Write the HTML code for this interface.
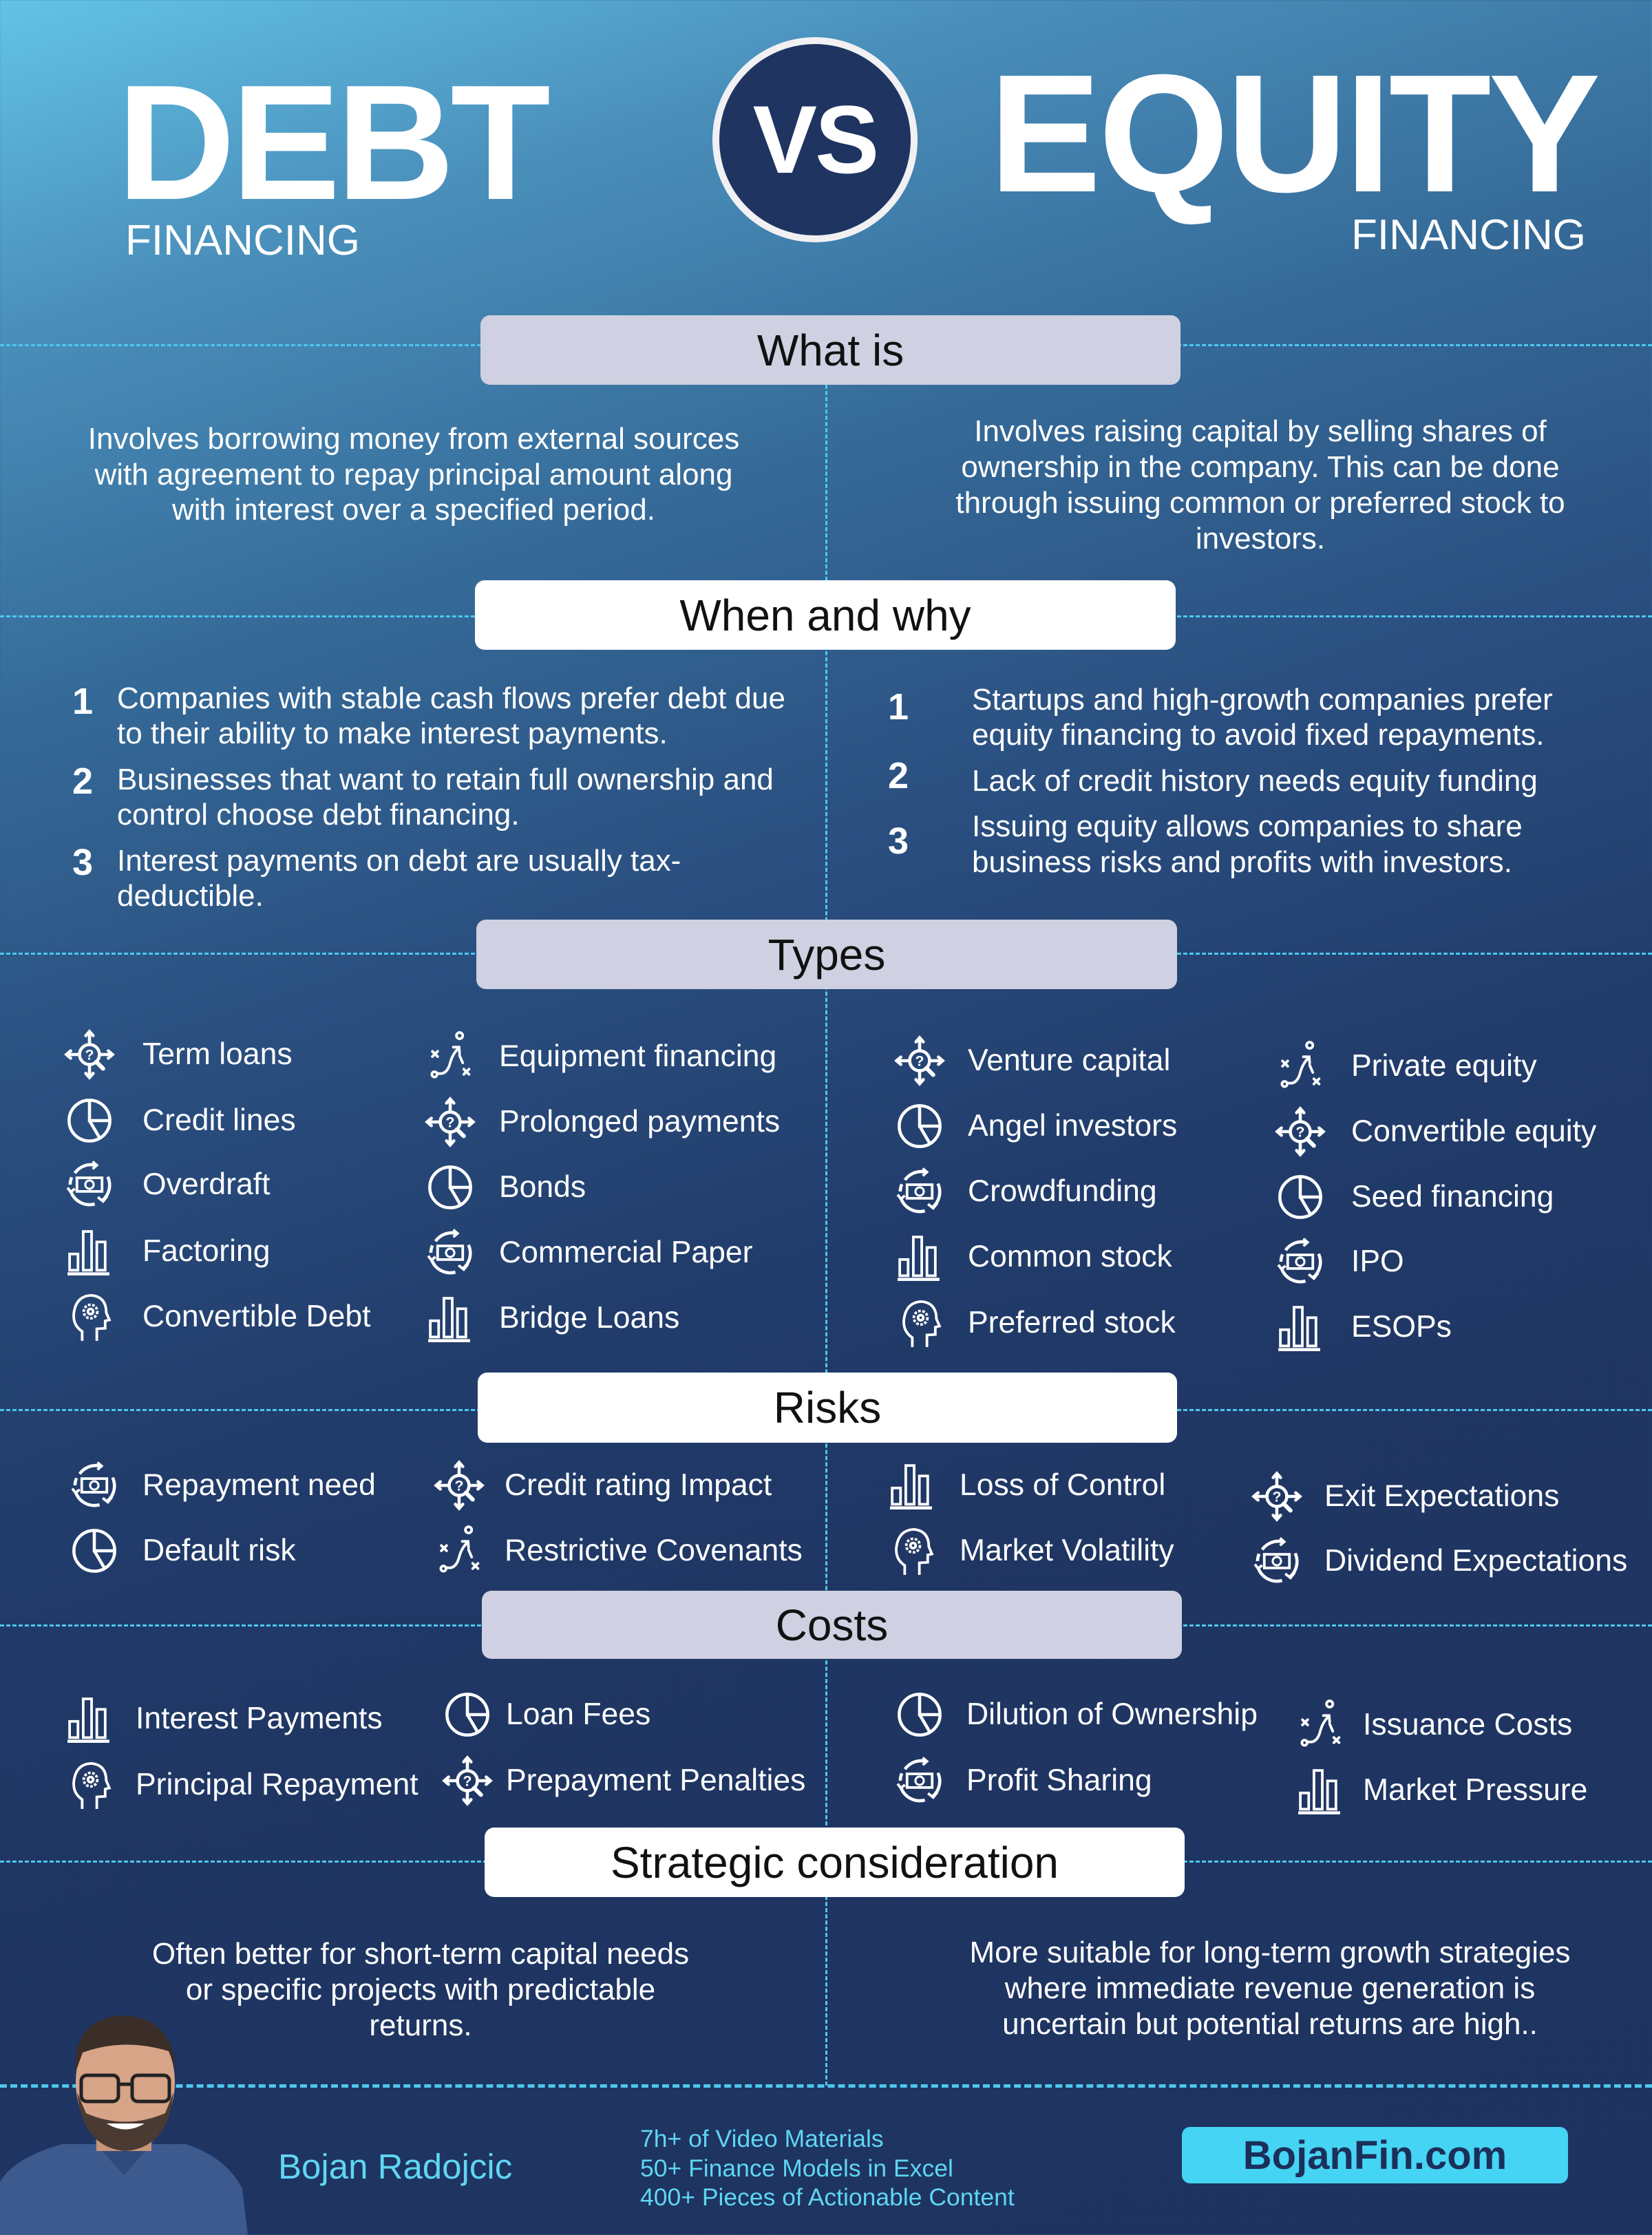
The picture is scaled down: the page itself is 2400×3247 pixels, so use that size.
<!DOCTYPE html>
<html><head><meta charset="utf-8">
<style>
*{margin:0;padding:0;box-sizing:border-box}
body{width:2400px;height:3247px;position:relative;overflow:hidden;font-family:"Liberation Sans",sans-serif;color:#fff;
background:linear-gradient(162deg,#62c3e6 0%,#4a8fbb 12%,#356a98 26%,#2a4f80 40%,#213c6b 55%,#1f3562 70%,#1e3360 100%);}
.a{position:absolute}
.c{position:absolute;width:1400px;text-align:center;line-height:52px;height:52px;font-size:44px;white-space:nowrap}
.l{position:absolute;line-height:52px;height:52px;font-size:44px;white-space:nowrap}
.t{font-size:44.5px}
.n{position:absolute;font-weight:bold;font-size:54px;line-height:60px;width:60px;text-align:center}
.hl{position:absolute;left:0;width:2400px;height:0;border-top:3px dashed #4cc8ee}
.hb{position:absolute;border-radius:14px;color:#111;font-size:64px;text-align:center;display:flex;align-items:center;justify-content:center}
.lav{background:#cfd0e1}.wh{background:#fff}
svg.i{position:absolute;width:76px;height:76px}
</style></head><body>
<svg width="0" height="0" style="position:absolute">
<defs>
<symbol id="q" viewBox="0 0 100 100"><g fill="none" stroke="#fff" stroke-width="6" stroke-linecap="round">
<circle cx="50" cy="50" r="19"/><line x1="63" y1="64" x2="76" y2="77" stroke-width="8"/>
<line x1="50" y1="30" x2="50" y2="8"/><line x1="50" y1="70" x2="50" y2="93"/><line x1="30" y1="50" x2="8" y2="50"/><line x1="70" y1="50" x2="93" y2="50"/>
<polyline points="43,14 50,6 57,14"/><polyline points="43,86 50,94 57,86"/><polyline points="14,43 6,50 14,57"/><polyline points="86,43 94,50 86,57"/></g>
<text x="50" y="60" font-size="28" font-weight="bold" text-anchor="middle" fill="#fff" font-family="Liberation Sans">?</text></symbol>
<symbol id="pie" viewBox="0 0 100 100"><g fill="none" stroke="#fff" stroke-width="6"><circle cx="50" cy="50" r="39"/><polyline points="50,11 50,50 89,50"/><line x1="50" y1="50" x2="70" y2="84"/></g></symbol>
<symbol id="mon" viewBox="0 0 100 100"><g fill="none" stroke="#fff" stroke-width="6"><path d="M22,28 A38,38 0 0 1 62,13"/><path d="M85,35 A38,38 0 0 1 75,80"/><path d="M60,87 A38,38 0 0 1 14,62"/><path d="M13,50 A38,38 0 0 1 16,36"/>
<polyline points="56,6 64,13 56,20" stroke-width="5"/><polyline points="66,74 76,82 84,72" stroke-width="5"/><polyline points="8,56 14,64 22,58" stroke-width="5"/>
<rect x="26" y="37" width="48" height="26" stroke-width="5"/><circle cx="50" cy="50" r="8" stroke-width="4"/></g></symbol>
<symbol id="bar" viewBox="0 0 100 100"><g fill="none" stroke="#fff" stroke-width="5"><rect x="12" y="55" width="16" height="31"/><rect x="38" y="12" width="16" height="74"/><rect x="64" y="32" width="16" height="54"/></g><rect x="8" y="90" width="80" height="6" fill="#fff"/></symbol>
<symbol id="head" viewBox="0 0 100 100"><g fill="none" stroke="#fff" stroke-width="5"><path d="M36,96 L36,78 Q18,66 20,44 Q24,10 54,9 Q82,12 82,42 L88,56 L80,58 L80,72 L64,73 L64,96"/><circle cx="52" cy="40" r="13" stroke-dasharray="5 3"/><circle cx="52" cy="40" r="5"/></g></symbol>
<symbol id="rt" viewBox="0 0 100 100"><g fill="none" stroke="#fff" stroke-width="5" stroke-linecap="round"><circle cx="68" cy="10" r="6"/><path d="M26,82 Q44,86 50,62 Q55,44 66,34"/><polyline points="56,32 67,32 68,44"/><circle cx="20" cy="84" r="5"/>
<path d="M16,40 L26,50 M26,40 L16,50"/><path d="M76,74 L86,84 M86,74 L76,84"/><path d="M68,48 L74,62"/></g></symbol>
</defs></svg>

<!-- title -->
<div class="a" style="left:170px;top:78px;font-size:238px;font-weight:bold;line-height:260px;letter-spacing:-6px">DEBT</div>
<div class="a" style="left:182px;top:318px;font-size:62px;line-height:64px">FINANCING</div>
<div class="a" style="left:1035px;top:54px;width:298px;height:298px;border-radius:50%;background:#1f3461;border:10px solid #f1f1f3;display:flex;align-items:center;justify-content:center;font-size:140px;font-weight:bold;letter-spacing:-3px">VS</div>
<div class="a" style="left:1437px;top:64px;font-size:244px;font-weight:bold;line-height:260px;letter-spacing:-4px">EQUITY</div>
<div class="a" style="left:1963px;top:310px;font-size:62px;line-height:64px">FINANCING</div>

<!-- dashed lines -->
<div class="a" style="left:1199px;top:559px;height:2471px;border-left:3px dashed #4cc8ee"></div>
<div class="hl" style="top:500px"></div>
<div class="hl" style="top:894px"></div>
<div class="hl" style="top:1384px"></div>
<div class="hl" style="top:2047px"></div>
<div class="hl" style="top:2360px"></div>
<div class="hl" style="top:2703px"></div>
<div class="hl" style="top:3028px;border-top-width:5px"></div>

<!-- headers -->
<div class="hb lav" style="left:698px;top:458px;width:1017px;height:101px">What is</div>
<div class="hb wh" style="left:690px;top:843px;width:1018px;height:101px">When and why</div>
<div class="hb lav" style="left:692px;top:1336px;width:1018px;height:101px">Types</div>
<div class="hb wh" style="left:694px;top:1994px;width:1016px;height:102px">Risks</div>
<div class="hb lav" style="left:700px;top:2311px;width:1017px;height:99px">Costs</div>
<div class="hb wh" style="left:704px;top:2655px;width:1017px;height:101px">Strategic consideration</div>

<!-- what is -->
<div class="c" style="left:-99px;top:612px">Involves borrowing money from external sources</div>
<div class="c" style="left:-99px;top:664px">with agreement to repay principal amount along</div>
<div class="c" style="left:-99px;top:715px">with interest over a specified period.</div>
<div class="c" style="left:1131px;top:601px">Involves raising capital by selling shares of</div>
<div class="c" style="left:1131px;top:653px">ownership in the company. This can be done</div>
<div class="c" style="left:1131px;top:705px">through issuing common or preferred stock to</div>
<div class="c" style="left:1131px;top:757px">investors.</div>

<!-- when and why -->
<div class="n" style="left:90px;top:989px">1</div>
<div class="n" style="left:90px;top:1105px">2</div>
<div class="n" style="left:90px;top:1223px">3</div>
<div class="l" style="left:170px;top:989px">Companies with stable cash flows prefer debt due</div>
<div class="l" style="left:170px;top:1040px">to their ability to make interest payments.</div>
<div class="l" style="left:170px;top:1107px">Businesses that want to retain full ownership and</div>
<div class="l" style="left:170px;top:1158px">control choose debt financing.</div>
<div class="l" style="left:170px;top:1225px">Interest payments on debt are usually tax-</div>
<div class="l" style="left:170px;top:1276px">deductible.</div>
<div class="n" style="left:1275px;top:997px">1</div>
<div class="n" style="left:1275px;top:1097px">2</div>
<div class="n" style="left:1275px;top:1192px">3</div>
<div class="l" style="left:1412px;top:991px">Startups and high-growth companies prefer</div>
<div class="l" style="left:1412px;top:1042px">equity financing to avoid fixed repayments.</div>
<div class="l" style="left:1412px;top:1109px">Lack of credit history needs equity funding</div>
<div class="l" style="left:1412px;top:1175px">Issuing equity allows companies to share</div>
<div class="l" style="left:1412px;top:1227px">business risks and profits with investors.</div>

<!-- types col1 -->
<svg class="i" style="left:92px;top:1494px"><use href="#q"/></svg><div class="l t" style="left:207px;top:1506px">Term loans</div>
<svg class="i" style="left:92px;top:1590px"><use href="#pie"/></svg><div class="l t" style="left:207px;top:1602px">Credit lines</div>
<svg class="i" style="left:92px;top:1683px"><use href="#mon"/></svg><div class="l t" style="left:207px;top:1695px">Overdraft</div>
<svg class="i" style="left:92px;top:1780px"><use href="#bar"/></svg><div class="l t" style="left:207px;top:1792px">Factoring</div>
<svg class="i" style="left:92px;top:1875px"><use href="#head"/></svg><div class="l t" style="left:207px;top:1887px">Convertible Debt</div>
<!-- col2 -->
<svg class="i" style="left:616px;top:1497px"><use href="#rt"/></svg><div class="l t" style="left:725px;top:1509px">Equipment financing</div>
<svg class="i" style="left:616px;top:1592px"><use href="#q"/></svg><div class="l t" style="left:725px;top:1604px">Prolonged payments</div>
<svg class="i" style="left:616px;top:1687px"><use href="#pie"/></svg><div class="l t" style="left:725px;top:1699px">Bonds</div>
<svg class="i" style="left:616px;top:1782px"><use href="#mon"/></svg><div class="l t" style="left:725px;top:1794px">Commercial Paper</div>
<svg class="i" style="left:616px;top:1877px"><use href="#bar"/></svg><div class="l t" style="left:725px;top:1889px">Bridge Loans</div>
<!-- col3 -->
<svg class="i" style="left:1298px;top:1503px"><use href="#q"/></svg><div class="l t" style="left:1406px;top:1515px">Venture capital</div>
<svg class="i" style="left:1298px;top:1598px"><use href="#pie"/></svg><div class="l t" style="left:1406px;top:1610px">Angel investors</div>
<svg class="i" style="left:1298px;top:1693px"><use href="#mon"/></svg><div class="l t" style="left:1406px;top:1705px">Crowdfunding</div>
<svg class="i" style="left:1298px;top:1788px"><use href="#bar"/></svg><div class="l t" style="left:1406px;top:1800px">Common stock</div>
<svg class="i" style="left:1298px;top:1884px"><use href="#head"/></svg><div class="l t" style="left:1406px;top:1896px">Preferred stock</div>
<!-- col4 -->
<svg class="i" style="left:1851px;top:1511px"><use href="#rt"/></svg><div class="l t" style="left:1963px;top:1523px">Private equity</div>
<svg class="i" style="left:1851px;top:1606px"><use href="#q"/></svg><div class="l t" style="left:1963px;top:1618px">Convertible equity</div>
<svg class="i" style="left:1851px;top:1701px"><use href="#pie"/></svg><div class="l t" style="left:1963px;top:1713px">Seed financing</div>
<svg class="i" style="left:1851px;top:1795px"><use href="#mon"/></svg><div class="l t" style="left:1963px;top:1807px">IPO</div>
<svg class="i" style="left:1851px;top:1890px"><use href="#bar"/></svg><div class="l t" style="left:1963px;top:1902px">ESOPs</div>

<!-- risks -->
<svg class="i" style="left:99px;top:2120px"><use href="#mon"/></svg><div class="l t" style="left:207px;top:2132px">Repayment need</div>
<svg class="i" style="left:99px;top:2215px"><use href="#pie"/></svg><div class="l t" style="left:207px;top:2227px">Default risk</div>
<svg class="i" style="left:629px;top:2120px"><use href="#q"/></svg><div class="l t" style="left:733px;top:2132px">Credit rating Impact</div>
<svg class="i" style="left:629px;top:2215px"><use href="#rt"/></svg><div class="l t" style="left:733px;top:2227px">Restrictive Covenants</div>
<svg class="i" style="left:1287px;top:2120px"><use href="#bar"/></svg><div class="l t" style="left:1394px;top:2132px">Loss of Control</div>
<svg class="i" style="left:1287px;top:2215px"><use href="#head"/></svg><div class="l t" style="left:1394px;top:2227px">Market Volatility</div>
<svg class="i" style="left:1817px;top:2136px"><use href="#q"/></svg><div class="l t" style="left:1924px;top:2148px">Exit Expectations</div>
<svg class="i" style="left:1817px;top:2230px"><use href="#mon"/></svg><div class="l t" style="left:1924px;top:2242px">Dividend Expectations</div>

<!-- costs -->
<svg class="i" style="left:92px;top:2459px"><use href="#bar"/></svg><div class="l t" style="left:197px;top:2471px">Interest Payments</div>
<svg class="i" style="left:92px;top:2555px"><use href="#head"/></svg><div class="l t" style="left:197px;top:2567px">Principal Repayment</div>
<svg class="i" style="left:641px;top:2453px"><use href="#pie"/></svg><div class="l t" style="left:735px;top:2465px">Loan Fees</div>
<svg class="i" style="left:641px;top:2549px"><use href="#q"/></svg><div class="l t" style="left:735px;top:2561px">Prepayment Penalties</div>
<svg class="i" style="left:1298px;top:2453px"><use href="#pie"/></svg><div class="l t" style="left:1404px;top:2465px">Dilution of Ownership</div>
<svg class="i" style="left:1298px;top:2549px"><use href="#mon"/></svg><div class="l t" style="left:1404px;top:2561px">Profit Sharing</div>
<svg class="i" style="left:1880px;top:2468px"><use href="#rt"/></svg><div class="l t" style="left:1980px;top:2480px">Issuance Costs</div>
<svg class="i" style="left:1880px;top:2563px"><use href="#bar"/></svg><div class="l t" style="left:1980px;top:2575px">Market Pressure</div>

<!-- strategic -->
<div class="c" style="left:-89px;top:2813px">Often better for short-term capital needs</div>
<div class="c" style="left:-89px;top:2865px">or specific projects with predictable</div>
<div class="c" style="left:-89px;top:2917px">returns.</div>
<div class="c" style="left:1145px;top:2811px">More suitable for long-term growth strategies</div>
<div class="c" style="left:1145px;top:2863px">where immediate revenue generation is</div>
<div class="c" style="left:1145px;top:2915px">uncertain but potential returns are high..</div>

<!-- footer person -->
<svg class="a" style="left:0;top:2920px" width="360" height="327" viewBox="0 0 360 327">
<path d="M0,327 L0,250 Q20,215 90,195 L270,195 Q330,215 352,260 L360,327 Z" fill="#3d5a8e"/>
<path d="M135,190 L180,240 L225,190 Z" fill="#2f4a7a"/>
<rect x="140" y="150" width="80" height="55" fill="#c99478"/>
<ellipse cx="182" cy="105" rx="72" ry="95" fill="#d7a488"/>
<path d="M110,90 Q105,15 175,8 Q250,10 255,85 L245,60 Q180,40 120,62 Z" fill="#3b2e28"/>
<path d="M112,120 Q120,200 182,205 Q245,200 252,120 L240,150 Q182,175 125,150 Z" fill="#4a3a32"/>
<g fill="none" stroke="#222" stroke-width="5"><rect x="118" y="95" width="54" height="38" rx="8"/><rect x="192" y="95" width="54" height="38" rx="8"/><line x1="172" y1="108" x2="192" y2="108"/></g>
<path d="M155,165 Q182,182 210,165" fill="#fff"/>
</svg>
<div class="a" style="left:404px;top:3118px;font-size:51px;line-height:60px;color:#5fd6f2">Bojan Radojcic</div>
<div class="a" style="left:930px;top:3086px;font-size:35.5px;line-height:42.5px;color:#5fd6f2;white-space:nowrap">7h+ of Video Materials<br>50+ Finance Models in Excel<br>400+ Pieces of Actionable Content</div>
<div class="a" style="left:1717px;top:3090px;width:561px;height:82px;border-radius:12px;background:#45d4f3;color:#1b2f5a;font-weight:bold;font-size:58px;display:flex;align-items:center;justify-content:center">BojanFin.com</div>
</body></html>
